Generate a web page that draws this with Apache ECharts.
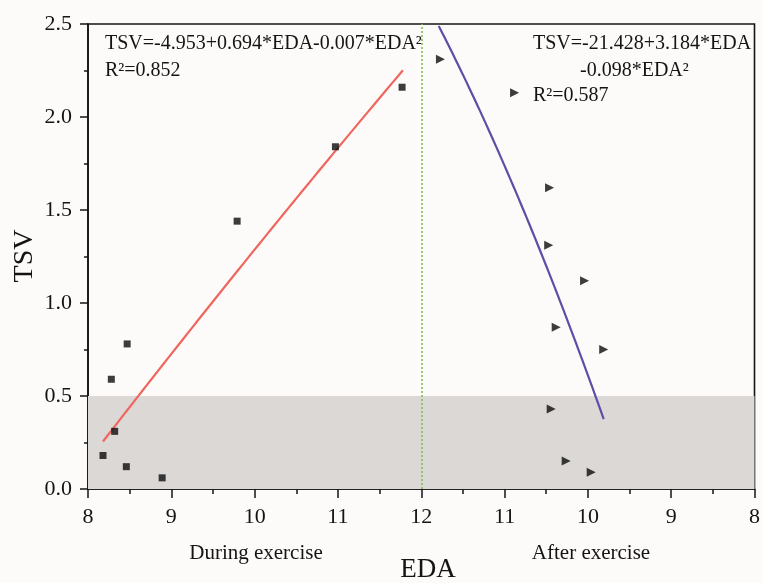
<!DOCTYPE html>
<html>
<head>
<meta charset="utf-8">
<script src="https://cdn.jsdelivr.net/npm/echarts@6/dist/echarts.min.js"></script>
<style>
  html, body { margin: 0; padding: 0; background: #fcfbfa; }
  #chart { width: 763px; height: 583px; }
</style>
</head>
<body>
<div id="chart"></div>
<script>
// EDA vs TSV, during exercise (left half, 8 → 12) and after exercise (right half, 12 → 8)
const xTickLabels = ['8', '9', '10', '11', '12', '11', '10', '9', '8'];
const yTickLabels = ['0.0', '0.5', '1.0', '1.5', '2.0', '2.5'];

// During exercise samples
const duringEDA = [8.18, 8.28, 8.32, 8.46, 8.47, 8.89, 9.79, 10.97, 11.77];
const duringTSV = [0.18, 0.59, 0.31, 0.12, 0.78, 0.06, 1.44, 1.84, 2.16];

// After exercise samples
const afterEDA = [11.77, 10.88, 10.46, 10.47, 10.04, 10.38, 9.81, 10.44, 10.26, 9.96];
const afterTSV = [2.31, 2.13, 1.62, 1.31, 1.12, 0.87, 0.75, 0.43, 0.15, 0.09];

// Quadratic fits TSV = a + b*EDA + c*EDA^2, with the EDA range each curve spans
const duringFit = [-4.953, 0.694, -0.007];
const duringFitRange = [8.18, 11.78];
const afterFit = [-21.428, 3.184, -0.098];
const afterFitRange = [11.79, 9.81];

const comfortBand = [0, 0.5];

// Left half position = EDA - 8, right half position = 16 - EDA
const leftPos = e => e - 8;
const rightPos = e => 16 - e;

function fitCurve(coef, range, toPos) {
  const pts = [];
  const n = 60;
  for (let i = 0; i <= n; i++) {
    const e = range[0] + (range[1] - range[0]) * i / n;
    pts.push([toPos(e), coef[0] + coef[1] * e + coef[2] * e * e]);
  }
  return pts;
}

const serif = 'Liberation Serif, Times New Roman, serif';
const ink = '#141414';

const chart = echarts.init(document.getElementById('chart'), null, { renderer: 'canvas' });
chart.setOption({
  backgroundColor: '#fcfbfa',
  animation: false,
  grid: {
    left: 88, right: 5, top: 24, bottom: 94,
    show: true, borderColor: ink, borderWidth: 1.6, backgroundColor: '#fcfbfa'
  },
  xAxis: {
    type: 'value', min: 0, max: 8, interval: 1,
    axisLine: { show: true, lineStyle: { color: ink, width: 1.6 } },
    axisTick: { show: true, inside: false, length: 9, lineStyle: { color: ink, width: 1.5 } },
    minorTick: { show: true, splitNumber: 2, length: 5, lineStyle: { color: ink, width: 1.5 } },
    splitLine: { show: false },
    axisLabel: {
      margin: 17, fontSize: 22, fontFamily: serif, color: ink,
      formatter: v => xTickLabels[Math.round(v)]
    }
  },
  yAxis: {
    type: 'value', min: 0, max: 2.5, interval: 0.5,
    axisLine: { show: true, lineStyle: { color: ink, width: 1.6 } },
    axisTick: { show: true, inside: false, length: 8, lineStyle: { color: ink, width: 1.5 } },
    minorTick: { show: true, splitNumber: 2, length: 4, lineStyle: { color: ink, width: 1.5 } },
    splitLine: { show: false },
    axisLabel: {
      margin: 16, fontSize: 22, fontFamily: serif, color: ink,
      formatter: v => yTickLabels[Math.round(v * 2)]
    }
  },
  series: [
    {
      // shaded band and divider between the two phases
      type: 'line', data: [], silent: true, z: 1,
      markArea: {
        silent: true,
        itemStyle: { color: '#dbd8d6' },
        data: [[{ yAxis: comfortBand[0] }, { yAxis: comfortBand[1] }]]
      },
      markLine: {
        silent: true, symbol: 'none', label: { show: false },
        lineStyle: { color: '#74c24f', type: [2, 2], width: 1.6 },
        data: [{ xAxis: 4 }]
      }
    },
    {
      type: 'line', z: 3, showSymbol: false, smooth: false,
      lineStyle: { color: '#f0665e', width: 2.2 },
      data: fitCurve(duringFit, duringFitRange, leftPos)
    },
    {
      type: 'line', z: 3, showSymbol: false, smooth: false,
      lineStyle: { color: '#5d4fa6', width: 2.2 },
      data: fitCurve(afterFit, afterFitRange, rightPos)
    },
    {
      type: 'scatter', z: 4, symbol: 'rect', symbolSize: 7,
      itemStyle: { color: '#0c0c0c' },
      data: duringEDA.map((e, i) => [leftPos(e), duringTSV[i]])
    },
    {
      type: 'scatter', z: 4, symbol: 'triangle', symbolSize: [9, 9], symbolRotate: -90,
      itemStyle: { color: '#0c0c0c' },
      data: afterEDA.map((e, i) => [rightPos(e), afterTSV[i]])
    }
  ],
  graphic: [
    { type: 'text', left: 105, top: 34, style: { text: 'TSV=-4.953+0.694*EDA-0.007*EDA²', font: '20px ' + serif, fill: ink } },
    { type: 'text', left: 105, top: 61, style: { text: 'R²=0.852', font: '20px ' + serif, fill: ink } },
    { type: 'text', left: 533, top: 34, style: { text: 'TSV=-21.428+3.184*EDA', font: '20px ' + serif, fill: ink } },
    { type: 'text', left: 580, top: 61, style: { text: '-0.098*EDA²', font: '20px ' + serif, fill: ink } },
    { type: 'text', left: 533, top: 86, style: { text: 'R²=0.587', font: '20px ' + serif, fill: ink } },
    { type: 'text', x: 256, y: 553, style: { text: 'During exercise', font: '21px ' + serif, fill: ink, align: 'center', verticalAlign: 'middle' } },
    { type: 'text', x: 591, y: 553, style: { text: 'After exercise', font: '21px ' + serif, fill: ink, align: 'center', verticalAlign: 'middle' } },
    { type: 'text', x: 428, y: 570, style: { text: 'EDA', font: '27px ' + serif, fill: ink, align: 'center', verticalAlign: 'middle' } },
    { type: 'text', x: 25, y: 256, rotation: Math.PI / 2, style: { text: 'TSV', font: '28px ' + serif, fill: ink, align: 'center', verticalAlign: 'middle' } }
  ]
});
</script>
</body>
</html>
